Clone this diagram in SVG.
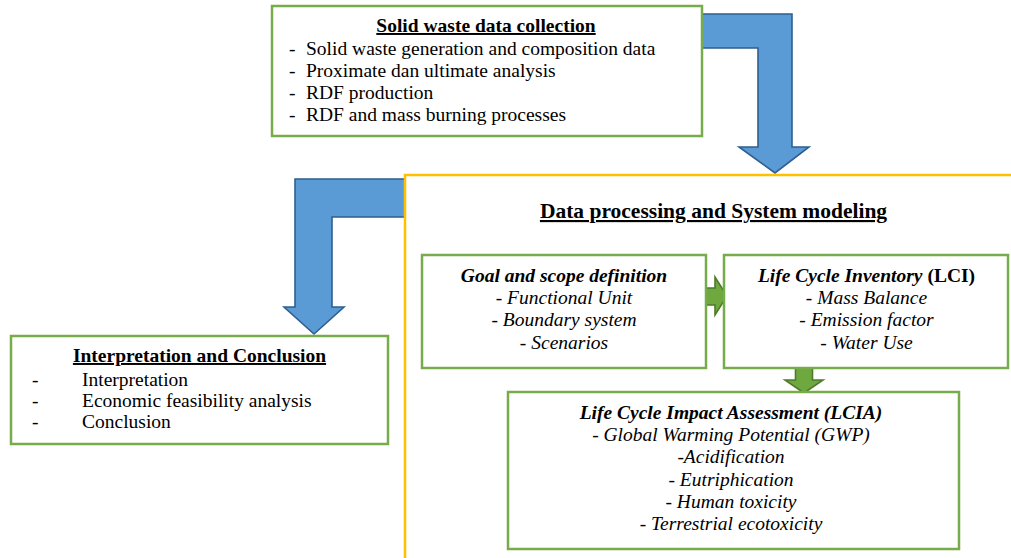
<svg xmlns="http://www.w3.org/2000/svg" width="1011" height="558" viewBox="0 0 1011 558">
  <style>
    text { font-family: "Liberation Serif", "Times New Roman", serif; font-size: 19.5px; fill: #000; }
    .title { font-weight: bold; text-decoration: underline; }
    .mid { text-anchor: middle; }
    .bi { font-weight: bold; font-style: italic; }
    .it { font-style: italic; }
    .box { fill: #fff; stroke: #77ac4a; stroke-width: 2.5; }
    .frame { fill: none; stroke: #ffc000; stroke-width: 2.5; }
    .flow { fill: #5b9bd5; stroke: #2f5f8f; stroke-width: 1.6; stroke-linejoin: miter; }
    .step { fill: #6fa83f; stroke: #4e7a2c; stroke-width: 1.6; stroke-linejoin: miter; }
  </style>

  <!-- block arrows between the stages -->
  <g id="connectors">
    <polygon class="flow" points="702,14 792,14 792,147 809,147 775,173 739,147 758,147 758,48 702,48"/>
    <polygon class="flow" points="405,179 295,179 295,307 284,307 314,334 344,307 332,307 332,217 405,217"/>
  </g>

  <!-- data processing frame (runs off the page edges) -->
  <g id="data-processing">
    <polyline class="frame" points="405,562 405,175 1015,175"/>
    <text class="title mid" x="713.5" y="218" style="font-size:21.5px">Data processing and System modeling</text>
  </g>

  <g id="steps">
    <polygon class="step" points="703,288 715,288 715,277 727,296 715,315 715,305 703,305"/>
    <polygon class="step" points="795.5,368 812.5,368 812.5,380 823,380 804,393 785,380 795.5,380"/>
  </g>

  <g id="solid-waste">
    <rect class="box" x="272" y="6" width="430" height="130"/>
    <text class="title mid" x="486" y="32">Solid waste data collection</text>
    <text x="289" y="55">-</text><text x="306" y="55">Solid waste generation and composition data</text>
    <text x="289" y="77">-</text><text x="306" y="77">Proximate dan ultimate analysis</text>
    <text x="289" y="99">-</text><text x="306" y="99">RDF production</text>
    <text x="289" y="121">-</text><text x="306" y="121">RDF and mass burning processes</text>
  </g>

  <g id="interpretation">
    <rect class="box" x="11" y="336" width="377" height="108"/>
    <text class="title mid" x="199.5" y="362">Interpretation and Conclusion</text>
    <text x="32" y="386">-</text><text x="82" y="386">Interpretation</text>
    <text x="32" y="407">-</text><text x="82" y="407">Economic feasibility analysis</text>
    <text x="32" y="428">-</text><text x="82" y="428">Conclusion</text>
  </g>

  <g id="goal-scope">
    <rect class="box" x="422" y="255" width="284" height="113"/>
    <text class="bi mid" x="564" y="282">Goal and scope definition</text>
    <text class="it mid" x="564" y="304">- Functional Unit</text>
    <text class="it mid" x="564" y="326">- Boundary system</text>
    <text class="it mid" x="564" y="349">- Scenarios</text>
  </g>

  <g id="lci">
    <rect class="box" x="724" y="255" width="284" height="113"/>
    <text class="mid" x="866.5" y="282"><tspan class="bi">Life Cycle Inventory</tspan><tspan font-weight="bold"> (LCI)</tspan></text>
    <text class="it mid" x="866.5" y="304">- Mass Balance</text>
    <text class="it mid" x="866.5" y="326">- Emission factor</text>
    <text class="it mid" x="866.5" y="349">- Water Use</text>
  </g>

  <g id="lcia">
    <rect class="box" x="508" y="392" width="451" height="157"/>
    <text class="bi mid" x="731" y="419">Life Cycle Impact Assessment (LCIA)</text>
    <text class="it mid" x="731" y="441">- Global Warming Potential (GWP)</text>
    <text class="it mid" x="731" y="463">-Acidification</text>
    <text class="it mid" x="731" y="486">- Eutriphication</text>
    <text class="it mid" x="731" y="508">- Human toxicity</text>
    <text class="it mid" x="731" y="530">- Terrestrial ecotoxicity</text>
  </g>
</svg>
